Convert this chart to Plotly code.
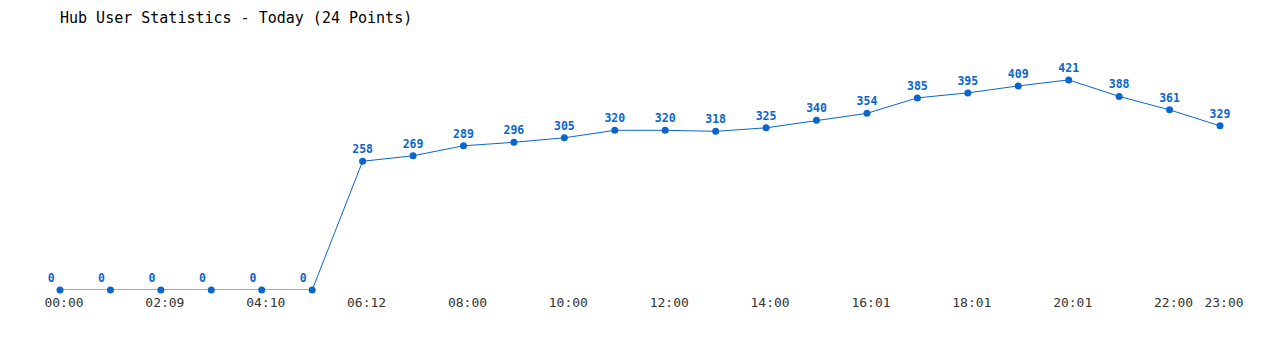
import plotly.graph_objects as go

times = ["00:00", "01:03", "02:09", "03:05", "04:10", "05:08", "06:12", "07:00",
         "08:00", "09:00", "10:00", "11:00", "12:00", "13:00", "14:00", "15:00",
         "16:01", "17:00", "18:01", "19:00", "20:01", "21:00", "22:00", "23:00"]
users = [0, 0, 0, 0, 0, 0, 258, 269, 289, 296, 305, 320, 320, 318, 325, 340,
         354, 385, 395, 409, 421, 388, 361, 329]
tick_idx = [0, 2, 4, 6, 8, 10, 12, 14, 16, 18, 20, 22, 23]

x = list(range(len(users)))
blue = "#0a66cc"

fig = go.Figure()
fig.add_trace(go.Scatter(
    x=x, y=users, mode="lines+markers+text",
    line=dict(color=blue, width=1),
    marker=dict(color=blue, size=7),
    text=[str(v) for v in users],
    textposition=["top left" if v == 0 else "top center" for v in users],
    textfont=dict(family="DejaVu Sans Mono", size=11.5, color=blue, weight="bold"),
    cliponaxis=False, hoverinfo="skip",
))

fig.update_layout(
    width=1280, height=350,
    margin=dict(l=60, r=60, t=40, b=60),
    paper_bgcolor="white", plot_bgcolor="white",
    showlegend=False,
    title=dict(text="Hub User Statistics - Today (24 Points)",
               x=60 / 1280, xanchor="left", y=1 - 18 / 350, yanchor="middle",
               font=dict(family="DejaVu Sans Mono", size=15, color="#000")),
    xaxis=dict(range=[0, 23], tickmode="array", tickvals=tick_idx,
               ticktext=[times[i] for i in tick_idx],
               showgrid=False, zeroline=False, showline=False, ticks="",
               ticklabelshift=4, ticklabelstandoff=3,
               tickfont=dict(family="DejaVu Sans Mono", size=13, color="#333")),
    yaxis=dict(range=[0, 501], visible=False, showgrid=False, zeroline=False),
)

fig.write_html("out.html")
